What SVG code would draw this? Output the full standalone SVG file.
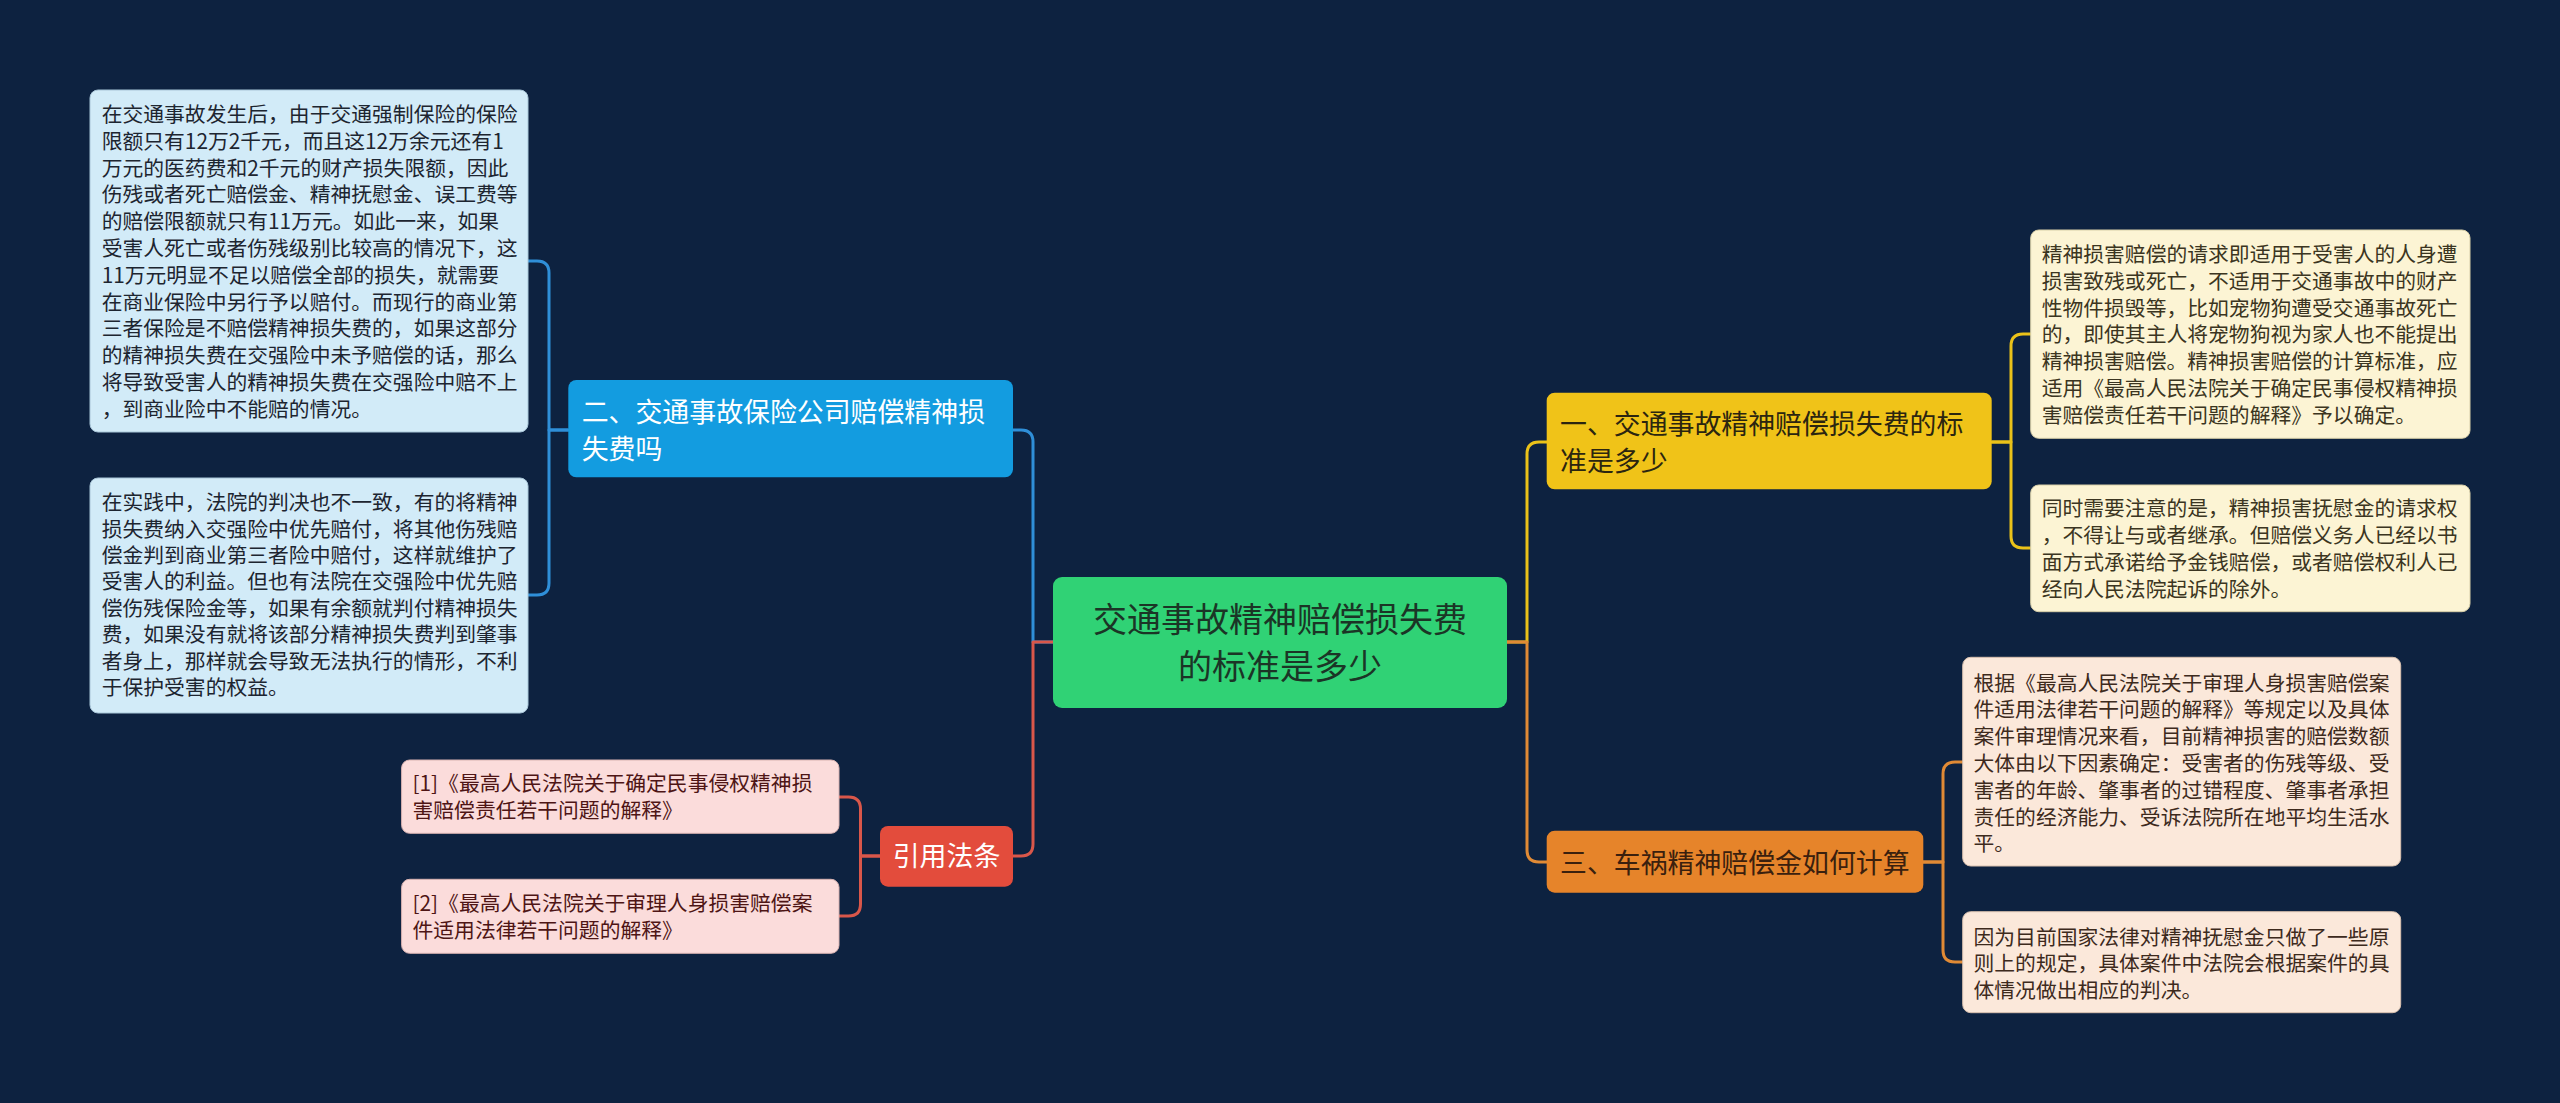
<svg xmlns="http://www.w3.org/2000/svg" width="2560" height="1103" viewBox="0 0 2560 1103">
<defs>
<style>
text{font-family:"Noto Sans CJK SC","Noto Sans",sans-serif;}
.leaf{font-size:20.8px;}
.br{font-size:26.9px;}
.root{font-size:34px;text-anchor:middle;fill:#1b3526;}
.con{fill:none;stroke-width:3;stroke-linejoin:round;stroke-linecap:round;}
</style>
</defs>
<rect x="0" y="0" width="2560" height="1103" fill="#0d2240"/>

<g id="connectors">
  <path class="con" stroke="#2f8fd8" d="M1053,642 H1033 V442 Q1033,430 1021,430 H1013"/>
  <path class="con" stroke="#d9574a" d="M1053,642 H1033 V844 Q1033,856 1021,856 H1013"/>
  <path class="con" stroke="#eac219" d="M1507,642 H1527 V454 Q1527,442 1539,442 H1547"/>
  <path class="con" stroke="#e08a35" d="M1507,642 H1527 V850 Q1527,862 1539,862 H1547"/>
  <path class="con" stroke="#2f8fd8" d="M568,430 H549 V273 Q549,261 537,261 H528"/>
  <path class="con" stroke="#2f8fd8" d="M568,430 H549 V583 Q549,595 537,595 H528"/>
  <path class="con" stroke="#d9574a" d="M880,856 H860.5 V809 Q860.5,797 848.5,797 H839"/>
  <path class="con" stroke="#d9574a" d="M880,856 H860.5 V904 Q860.5,916 848.5,916 H839"/>
  <path class="con" stroke="#eac219" d="M1992,442 H2011 V346 Q2011,334 2023,334 H2031"/>
  <path class="con" stroke="#eac219" d="M1992,442 H2011 V536 Q2011,548 2023,548 H2031"/>
  <path class="con" stroke="#e08a35" d="M1923,862 H1943 V774 Q1943,762 1955,762 H1963"/>
  <path class="con" stroke="#e08a35" d="M1923,862 H1943 V950 Q1943,962 1955,962 H1963"/>
</g>

<g id="root">
  <rect x="1053" y="577" width="454" height="131" rx="9" fill="#30d275"/>
  <text class="root" x="1280" y="632.2">交通事故精神赔偿损失费</text>
  <text class="root" x="1280" y="678.6">的标准是多少</text>
</g>

<g id="branch-blue">
  <rect x="568.3" y="380" width="444.7" height="97.3" rx="8" fill="#139ce0"/>
  <text class="br" fill="#ffffff" x="581.7" y="422.1">二、交通事故保险公司赔偿精神损</text>
  <text class="br" fill="#ffffff" x="581.7" y="458.7">失费吗</text>
</g>

<g id="branch-red">
  <rect x="880" y="826" width="133" height="60.7" rx="8" fill="#e34c3c"/>
  <text class="br" fill="#ffffff" x="946.5" y="866.3" text-anchor="middle">引用法条</text>
</g>

<g id="branch-yellow">
  <rect x="1546.7" y="392.7" width="445" height="96.6" rx="8" fill="#f0c318"/>
  <text class="br" fill="#2b2510" x="1560" y="434.4">一、交通事故精神赔偿损失费的标</text>
  <text class="br" fill="#2b2510" x="1560" y="471">准是多少</text>
</g>

<g id="branch-orange">
  <rect x="1546.7" y="830.7" width="376.6" height="62" rx="8" fill="#e6842a"/>
  <text class="br" fill="#3a200e" x="1560" y="872.6">三、车祸精神赔偿金如何计算</text>
</g>

<g id="leaf-blue-1" class="leaf" fill="#1d2530">
  <rect x="90" y="90" width="438" height="342" rx="8" fill="#d2ebf8" stroke="#a9c6d8" stroke-width="1"/>
  <text x="101.7" y="122">在交通事故发生后，由于交通强制保险的保险</text>
  <text x="101.7" y="148.8">限额只有12万2千元，而且这12万余元还有1</text>
  <text x="101.7" y="175.6">万元的医药费和2千元的财产损失限额，因此</text>
  <text x="101.7" y="202.4">伤残或者死亡赔偿金、精神抚慰金、误工费等</text>
  <text x="101.7" y="229.2">的赔偿限额就只有11万元。如此一来，如果</text>
  <text x="101.7" y="256">受害人死亡或者伤残级别比较高的情况下，这</text>
  <text x="101.7" y="282.8">11万元明显不足以赔偿全部的损失，就需要</text>
  <text x="101.7" y="309.6">在商业保险中另行予以赔付。而现行的商业第</text>
  <text x="101.7" y="336.4">三者保险是不赔偿精神损失费的，如果这部分</text>
  <text x="101.7" y="363.2">的精神损失费在交强险中未予赔偿的话，那么</text>
  <text x="101.7" y="390">将导致受害人的精神损失费在交强险中赔不上</text>
  <text x="101.7" y="416.8">，到商业险中不能赔的情况。</text>
</g>

<g id="leaf-blue-2" class="leaf" fill="#1d2530">
  <rect x="90" y="478" width="438" height="235" rx="8" fill="#d2ebf8" stroke="#a9c6d8" stroke-width="1"/>
  <text x="101.7" y="510.2">在实践中，法院的判决也不一致，有的将精神</text>
  <text x="101.7" y="536.6">损失费纳入交强险中优先赔付，将其他伤残赔</text>
  <text x="101.7" y="563">偿金判到商业第三者险中赔付，这样就维护了</text>
  <text x="101.7" y="589.4">受害人的利益。但也有法院在交强险中优先赔</text>
  <text x="101.7" y="615.8">偿伤残保险金等，如果有余额就判付精神损失</text>
  <text x="101.7" y="642.2">费，如果没有就将该部分精神损失费判到肇事</text>
  <text x="101.7" y="668.6">者身上，那样就会导致无法执行的情形，不利</text>
  <text x="101.7" y="695">于保护受害的权益。</text>
</g>

<g id="leaf-red-1" class="leaf" fill="#4e1515">
  <rect x="401.6" y="760" width="437.4" height="73.3" rx="8" fill="#fbdcdb" stroke="#d9b3b2" stroke-width="1"/>
  <text x="412.5" y="791">[1]《最高人民法院关于确定民事侵权精神损</text>
  <text x="412.5" y="817.8">害赔偿责任若干问题的解释》</text>
</g>

<g id="leaf-red-2" class="leaf" fill="#4e1515">
  <rect x="401.6" y="879.3" width="437.4" height="74" rx="8" fill="#fbdcdb" stroke="#d9b3b2" stroke-width="1"/>
  <text x="412.5" y="910.8">[2]《最高人民法院关于审理人身损害赔偿案</text>
  <text x="412.5" y="937.6">件适用法律若干问题的解释》</text>
</g>

<g id="leaf-yellow-1" class="leaf" fill="#3b3521">
  <rect x="2030.7" y="230" width="439.3" height="208.3" rx="8" fill="#fcf4d4" stroke="#d8cfa8" stroke-width="1"/>
  <text x="2041.7" y="262">精神损害赔偿的请求即适用于受害人的人身遭</text>
  <text x="2041.7" y="288.8">损害致残或死亡，不适用于交通事故中的财产</text>
  <text x="2041.7" y="315.6">性物件损毁等，比如宠物狗遭受交通事故死亡</text>
  <text x="2041.7" y="342.4">的，即使其主人将宠物狗视为家人也不能提出</text>
  <text x="2041.7" y="369.2">精神损害赔偿。精神损害赔偿的计算标准，应</text>
  <text x="2041.7" y="396">适用《最高人民法院关于确定民事侵权精神损</text>
  <text x="2041.7" y="422.8">害赔偿责任若干问题的解释》予以确定。</text>
</g>

<g id="leaf-yellow-2" class="leaf" fill="#3b3521">
  <rect x="2030.7" y="485" width="439.3" height="126.7" rx="8" fill="#fcf4d4" stroke="#d8cfa8" stroke-width="1"/>
  <text x="2041.7" y="516.2">同时需要注意的是，精神损害抚慰金的请求权</text>
  <text x="2041.7" y="543">，不得让与或者继承。但赔偿义务人已经以书</text>
  <text x="2041.7" y="569.8">面方式承诺给予金钱赔偿，或者赔偿权利人已</text>
  <text x="2041.7" y="596.6">经向人民法院起诉的除外。</text>
</g>

<g id="leaf-orange-1" class="leaf" fill="#3d2a1d">
  <rect x="1962.7" y="657.3" width="438" height="208.7" rx="8" fill="#fbe8da" stroke="#d8c0ae" stroke-width="1"/>
  <text x="1973.5" y="690.6">根据《最高人民法院关于审理人身损害赔偿案</text>
  <text x="1973.5" y="717.4">件适用法律若干问题的解释》等规定以及具体</text>
  <text x="1973.5" y="744.2">案件审理情况来看，目前精神损害的赔偿数额</text>
  <text x="1973.5" y="771">大体由以下因素确定：受害者的伤残等级、受</text>
  <text x="1973.5" y="797.8">害者的年龄、肇事者的过错程度、肇事者承担</text>
  <text x="1973.5" y="824.6">责任的经济能力、受诉法院所在地平均生活水</text>
  <text x="1973.5" y="851.4">平。</text>
</g>

<g id="leaf-orange-2" class="leaf" fill="#3d2a1d">
  <rect x="1962.7" y="911.7" width="438" height="101" rx="8" fill="#fbe8da" stroke="#d8c0ae" stroke-width="1"/>
  <text x="1973.5" y="944.6">因为目前国家法律对精神抚慰金只做了一些原</text>
  <text x="1973.5" y="971.4">则上的规定，具体案件中法院会根据案件的具</text>
  <text x="1973.5" y="998.2">体情况做出相应的判决。</text>
</g>
</svg>
